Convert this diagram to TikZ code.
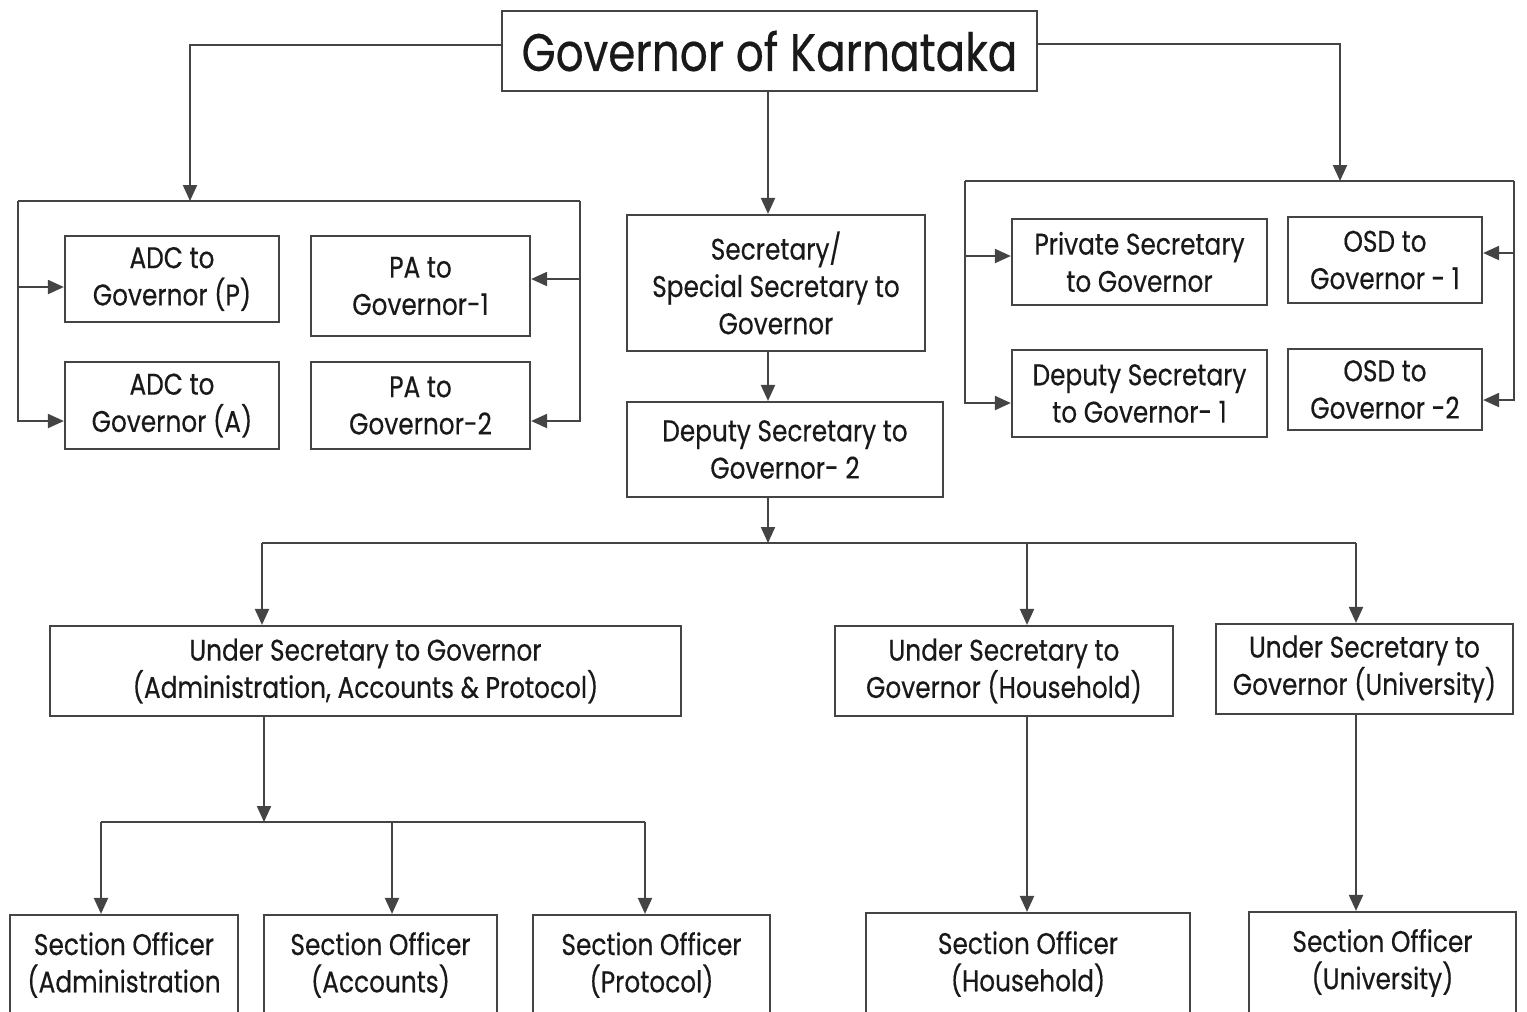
\documentclass[tikz,border=0pt]{standalone}
\usepackage{fontspec}
\setmainfont{Poppins}[FakeStretch=0.83, FakeBold=0.4]
\usetikzlibrary{arrows.meta}

\definecolor{linegray}{HTML}{444444}

\begin{document}
\begin{tikzpicture}[x=0.01cm, y=-0.01cm,
    post/.style={draw=linegray, line width=0.6pt, align=center, inner sep=2pt,
        font=\fontsize{8.5}{10.6}\selectfont, text=black!90},
    arr/.style={draw=linegray, line width=0.6pt, -{Triangle[length=0.16cm, width=0.14cm]}},
    bus/.style={draw=linegray, line width=0.6pt}]
	\useasboundingbox (0,0) rectangle (1527,1011);

	% top
	\node[post, minimum width=5.35cm, minimum height=0.8cm, font=\fontsize{15}{18}\selectfont] (gov) at (769.5,51) {Governor of Karnataka};

	% left group
	\node[post, minimum width=2.14cm, minimum height=0.86cm] (adcp) at (172,279) {ADC to\\Governor (P)};
	\node[post, minimum width=2.14cm, minimum height=0.87cm] (adca) at (172,405.5) {ADC to\\Governor (A)};
	\node[post, minimum width=2.19cm, minimum height=1.00cm] (pa1) at (420.5,286) {PA to\\Governor-1};
	\node[post, minimum width=2.19cm, minimum height=0.87cm] (pa2) at (420.5,405.5) {PA to\\Governor-2};

	% centre column
	\node[post, minimum width=2.98cm, minimum height=1.36cm] (sec) at (776,283) {Secretary/\\Special Secretary to\\Governor};
	\node[post, minimum width=3.16cm, minimum height=0.95cm] (dsg2) at (785,449.5) {Deputy Secretary to\\Governor- 2};

	% right group
	\node[post, minimum width=2.55cm, minimum height=0.86cm] (psg) at (1139.5,262) {Private Secretary\\to Governor};
	\node[post, minimum width=1.94cm, minimum height=0.86cm] (osd1) at (1385,260) {OSD to\\Governor - 1};
	\node[post, minimum width=2.55cm, minimum height=0.87cm] (dsg1) at (1139.5,393.5) {Deputy Secretary\\to Governor- 1};
	\node[post, minimum width=1.94cm, minimum height=0.81cm] (osd2) at (1385,389.5) {OSD to\\Governor -2};

	% under secretaries
	\node[post, minimum width=6.31cm, minimum height=0.90cm] (usadm) at (365.5,671) {Under Secretary to Governor\\(Administration, Accounts \& Protocol)};
	\node[post, minimum width=3.38cm, minimum height=0.90cm] (ushh) at (1004,671) {Under Secretary to\\Governor (Household)};
	\node[post, minimum width=2.97cm, minimum height=0.90cm] (usuni) at (1364.5,669) {Under Secretary to\\Governor (University)};

	% section officers
	\node[post, minimum width=2.28cm, minimum height=1.00cm] (soadm) at (124,965) {Section Officer\\(Administration};
	\node[post, minimum width=2.33cm, minimum height=1.00cm] (soacc) at (380.5,965) {Section Officer\\(Accounts)};
	\node[post, minimum width=2.37cm, minimum height=1.00cm] (soprot) at (651.5,965) {Section Officer\\(Protocol)};
	\node[post, minimum width=3.24cm, minimum height=1.02cm] (sohh) at (1028,964) {Section Officer\\(Household)};
	\node[post, minimum width=2.67cm, minimum height=1.02cm] (souni) at (1382.5,963) {Section Officer\\(University)};

	% bus corners
	\coordinate (lbus) at (190,201);
	\coordinate (lbl) at (18,201);
	\coordinate (lbr) at (580,201);
	\coordinate (rbus) at (1340,181);
	\coordinate (rbl) at (965,181);
	\coordinate (rbr) at (1514,181);
	\coordinate (mbus) at (768,543);
	\coordinate (mb1) at (262,543);
	\coordinate (mb2) at (1027,543);
	\coordinate (mb3) at (1356,543);
	\coordinate (abus) at (264,822);
	\coordinate (ab1) at (101,822);
	\coordinate (ab2) at (392,822);
	\coordinate (ab3) at (645,822);

	% left side
	\draw[arr] ([yshift=0.06cm]gov.west) -| (lbus);
	\draw[bus] (lbl) -- (lbr);
	\draw[arr] (lbl) |- ([yshift=-0.08cm]adcp.west);
	\draw[arr] (lbl) |- ([yshift=-0.155cm]adca.west);
	\draw[arr] (lbr) |- ([yshift=0.07cm]pa1.east);
	\draw[arr] (lbr) |- ([yshift=-0.155cm]pa2.east);

	% right side
	\draw[arr] ([yshift=0.07cm]gov.east) -| (rbus);
	\draw[bus] (rbl) -- (rbr);
	\draw[arr] (rbl) |- ([yshift=0.06cm]psg.west);
	\draw[arr] (rbl) |- ([yshift=-0.095cm]dsg1.west);
	\draw[arr] (rbr) |- ([yshift=0.07cm]osd1.east);
	\draw[arr] (rbr) |- ([yshift=-0.105cm]osd2.east);

	% centre
	\draw[arr] (mbus |- gov.south) -- (mbus |- sec.north);
	\draw[arr] (mbus |- sec.south) -- (mbus |- dsg2.north);
	\draw[arr] (mbus |- dsg2.south) -- (mbus);
	\draw[bus] (mb1) -- (mb3);
	\draw[arr] (mb1) -- (mb1 |- usadm.north);
	\draw[arr] (mb2) -- (mb2 |- ushh.north);
	\draw[arr] (mb3) -- (mb3 |- usuni.north);

	% bottom
	\draw[arr] (abus |- usadm.south) -- (abus);
	\draw[bus] (ab1) -- (ab3);
	\draw[arr] (ab1) -- (ab1 |- soadm.north);
	\draw[arr] (ab2) -- (ab2 |- soacc.north);
	\draw[arr] (ab3) -- (ab3 |- soprot.north);
	\draw[arr] (mb2 |- ushh.south) -- (mb2 |- sohh.north);
	\draw[arr] (mb3 |- usuni.south) -- (mb3 |- souni.north);
\end{tikzpicture}
\end{document}
